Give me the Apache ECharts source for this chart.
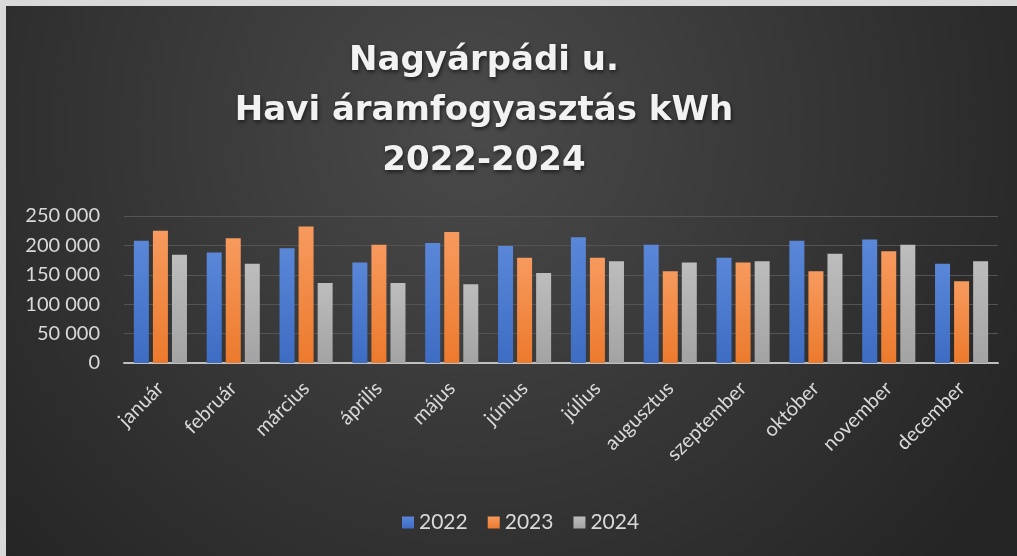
<!DOCTYPE html>
<html>
<head>
<meta charset="utf-8">
<script src="https://cdn.jsdelivr.net/npm/echarts@6/dist/echarts.min.js"></script>
<style>
  html, body { margin: 0; padding: 0; background: #d9d9d9; }
  #main { position: absolute; left: 6px; top: 6px; width: 1011px; height: 550px; }
</style>
</head>
<body>
<div id="main"></div>
<script>
// havi adatok
var months = ['január', 'február', 'március', 'április', 'május', 'június',
    'július', 'augusztus', 'szeptember', 'október', 'november', 'december'];
var years = ['2022', '2023', '2024'];
var data2022 = [208000, 188000, 195000, 171000, 204000, 199000, 214000, 201000, 179000, 208000, 210000, 169000];
var data2023 = [225000, 212000, 232000, 201000, 223000, 179000, 179000, 156000, 171000, 156000, 190000, 139000];
var data2024 = [184000, 169000, 136000, 136000, 134000, 153000, 173000, 171000, 173000, 186000, 201000, 173000];
var yTicks = [0, 50000, 100000, 150000, 200000, 250000];

var barColors = [
    ['#5a87d8', '#3d6cc3'],
    ['#f79a5e', '#ec7a2c'],
    ['#bdbdbd', '#a3a3a3']
];

function grad(c) {
    return new echarts.graphic.LinearGradient(0, 0, 0, 1, [
        { offset: 0, color: c[0] },
        { offset: 1, color: c[1] }
    ]);
}

// ezres tagolás szóközzel
function fmt(v) {
    return String(v).replace(/\B(?=(\d{3})+(?!\d))/g, ' ');
}

var chart = echarts.init(document.getElementById('main'));
var seriesData = [data2022, data2023, data2024];

var option = {
    backgroundColor: {
        type: 'radial', x: 0.46, y: 0.22, r: 1.15,
        colorStops: [
            { offset: 0, color: '#4a4a4a' },
            { offset: 1, color: '#252525' }
        ]
    },
    textStyle: { fontFamily: 'Lato' },
    title: {
        text: 'Nagyárpádi u.\nHavi áramfogyasztás kWh\n2022-2024',
        left: 473,
        top: 25,
        textAlign: 'center',
        textStyle: {
            color: '#f2f2f2',
            fontFamily: 'DejaVu Sans',
            fontWeight: 'bold',
            fontSize: 34,
            lineHeight: 50,
            textShadowColor: 'rgba(0,0,0,0.6)',
            textShadowBlur: 4,
            textShadowOffsetX: 1,
            textShadowOffsetY: 2
        }
    },
    legend: {
        top: 501,
        left: 391,
        itemWidth: 12,
        itemHeight: 12,
        itemGap: 20,
        icon: 'rect',
        textStyle: { color: '#d9d9d9', fontSize: 21, fontFamily: 'Lato' },
        data: years
    },
    grid: {
        left: 118,
        right: 19,
        top: 210,
        bottom: 193,
        containLabel: false
    },
    xAxis: {
        type: 'category',
        data: months,
        axisLine: { lineStyle: { color: '#bfbfbf', width: 2 } },
        axisTick: { show: false },
        axisLabel: {
            color: '#d9d9d9',
            fontSize: 20,
            rotate: 45,
            margin: 22,
            interval: 0
        }
    },
    yAxis: {
        type: 'value',
        min: yTicks[0],
        max: yTicks[yTicks.length - 1],
        interval: yTicks[1] - yTicks[0],
        axisLine: { show: false },
        axisTick: { show: false },
        splitLine: { lineStyle: { color: '#545454', width: 1 } },
        axisLabel: {
            color: '#d9d9d9',
            fontSize: 20,
            margin: 24,
            formatter: fmt
        }
    },
    series: years.map(function (y, i) {
        return {
            name: y,
            type: 'bar',
            data: seriesData[i],
            barWidth: 15,
            barGap: '27%',
            itemStyle: {
                color: grad(barColors[i]),
                shadowColor: 'rgba(0,0,0,0.45)',
                shadowBlur: 4,
                shadowOffsetX: 1,
                shadowOffsetY: 1
            }
        };
    })
};

chart.setOption(option);
</script>
</body>
</html>
